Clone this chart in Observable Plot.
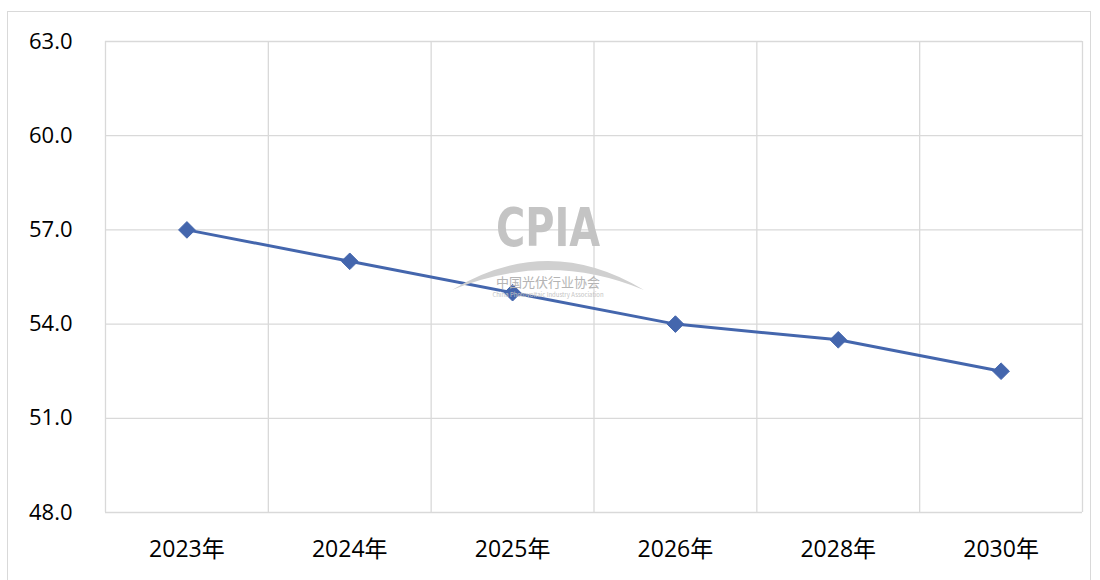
<!DOCTYPE html>
<html>
<head>
<meta charset="utf-8">
<script src="https://cdn.jsdelivr.net/npm/d3@7"></script>
<script src="https://cdn.jsdelivr.net/npm/@observablehq/plot@0.6"></script>
<style>
  html, body { margin: 0; padding: 0; background: #fff; }
  #wrap { position: relative; width: 1100px; height: 580px; overflow: hidden; font-family: "Noto Sans CJK SC", "Noto Sans", sans-serif; }
  #border { position: absolute; left: 7px; top: 11px; width: 1084px; height: 600px; border: 1px solid #d9d9d9; box-sizing: border-box; }
  #chart { position: absolute; left: 0; top: 0; }
  #chart g[aria-label="x-axis tick label"] text { font-size: 23px; }
  #wm { position: absolute; left: 450px; top: 192px; width: 196px; height: 110px; text-align: center; color: #c4c4c4; pointer-events: none; }
  #wm svg { position: absolute; left: 0; top: 0; }
  #wm .big { position: absolute; left: 0; width: 196px; top: 8px; font-family: "DejaVu Sans Condensed", "DejaVu Sans", sans-serif; font-weight: bold; font-size: 54px; line-height: 56px; transform: scaleX(0.82); }
  #wm .cn { position: absolute; left: 0; width: 196px; top: 83px; font-size: 13px; line-height: 14px; color: #b4b4b4; }
  #wm .en { position: absolute; left: 0; width: 196px; top: 99px; font-size: 6px; line-height: 7px; color: #c4c4c4; }
</style>
</head>
<body>
<div id="wrap">
  <div id="border"></div>
  <div id="chart"></div>
  <div id="wm">
    <svg width="196" height="110"><path d="M2,98 Q98,40 194,98 Q98,58 2,98 Z" fill="#d0d0d0"/></svg>
    <div class="big">CPIA</div>
    <div class="cn">中国光伏行业协会</div>
    <div class="en">China Photovoltaic Industry Association</div>
  </div>
</div>
<script>
const years = ["2023年", "2024年", "2025年", "2026年", "2028年", "2030年"];
const values = [57.0, 56.0, 55.0, 54.0, 53.5, 52.5];
const yTicks = [48, 51, 54, 57, 60, 63];

const data = years.map((y, i) => ({i, year: y, value: values[i]}));
const edges = d3.range(years.length + 1).map(k => k - 0.5);

const chart = Plot.plot({
  width: 1100,
  height: 580,
  marginLeft: 105,
  marginRight: 18,
  marginTop: 41,
  marginBottom: 68,
  style: {fontFamily: '"Open Sans", "Noto Sans CJK SC", sans-serif', fontSize: "22px", color: "#000", background: "transparent"},
  x: {domain: [-0.5, years.length - 0.5], ticks: d3.range(years.length), tickFormat: i => years[i], tickSize: 0, tickPadding: 28, label: null},
  y: {domain: [48, 63], ticks: yTicks, tickFormat: d => d.toFixed(1), tickSize: 0, tickPadding: 33, label: null},
  marks: [
    Plot.ruleY(yTicks, {stroke: "#d9d9d9", strokeWidth: 1.3}),
    Plot.ruleX(edges, {stroke: "#d9d9d9", strokeWidth: 1.3}),
    Plot.line(data, {x: "i", y: "value", stroke: "#4466ad", strokeWidth: 3}),
    Plot.dot(data, {x: "i", y: "value", symbol: "diamond2", r: 7.5, fill: "#4466ad", stroke: "#4466ad", strokeWidth: 1})
  ]
});
document.getElementById("chart").appendChild(chart);
</script>
</body>
</html>
